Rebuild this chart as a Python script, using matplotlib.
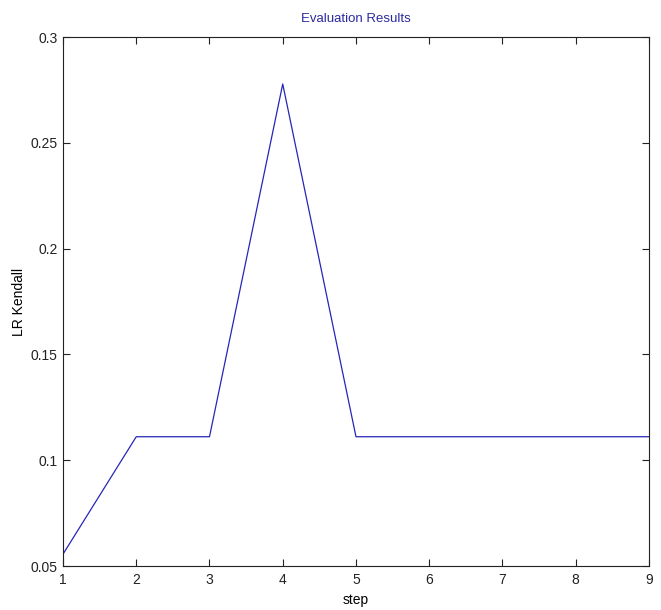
import numpy as np
from matplotlib import pyplot as plt

steps = [1, 2, 3, 4, 5, 6, 7, 8, 9]
lr_kendall = [0.0556, 0.1111, 0.1111, 0.2778, 0.1111, 0.1111, 0.1111, 0.1111, 0.1111]

xticks = [1, 2, 3, 4, 5, 6, 7, 8, 9]
yticks = [0.05, 0.1, 0.15, 0.2, 0.25, 0.3]
ytick_labels = ['0.05', '0.1', '0.15', '0.2', '0.25', '0.3']

plt.rcParams['font.family'] = ['Liberation Sans Narrow', 'Liberation Sans', 'DejaVu Sans']

fig = plt.figure(figsize=(6.61, 6.1), dpi=100)
ax = fig.add_axes([0.0953, 0.0721, 0.8865, 0.8672])

ax.plot(steps, lr_kendall, color='#2626b8', linewidth=0.9)

ax.set_xlim(1, 9)
ax.set_ylim(0.05, 0.3)
ax.set_xticks(xticks)
ax.set_yticks(yticks)
ax.set_yticklabels(ytick_labels)

ax.tick_params(direction='in', top=True, right=True, length=5, width=0.8,
               labelsize=10, colors='#222222')
ax.tick_params(axis='x', pad=5)
ax.tick_params(axis='y', pad=4)
for side in ax.spines.values():
    side.set_linewidth(0.8)
    side.set_color('#222222')

ax.set_title('Evaluation Results', fontsize=9.5, color='#2a2aa0', pad=11)
ax.set_xlabel('step', fontsize=10, labelpad=4)
ax.set_ylabel('LR Kendall', fontsize=10, labelpad=3)

plt.savefig('out.png', dpi=100)
